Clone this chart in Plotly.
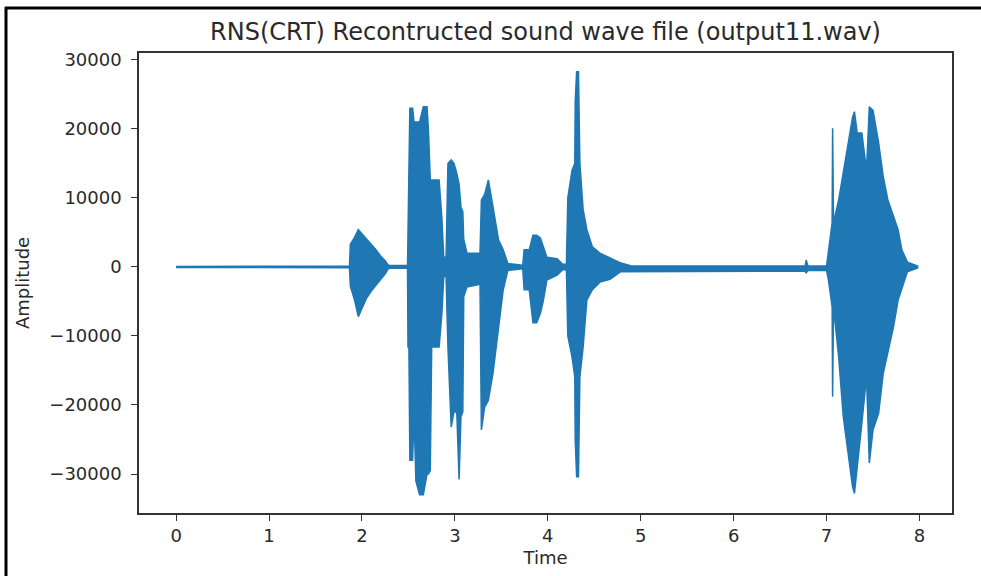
import plotly.graph_objects as go

# Envelope of the reconstructed waveform: time (s), upper and lower amplitude
time = [
    0.0, 1.865, 1.875, 1.92, 1.96, 2.00, 2.05, 2.10, 2.15, 2.20, 2.25, 2.28, 2.30, 2.49,
    2.495, 2.505, 2.515, 2.545, 2.56, 2.58, 2.62, 2.66, 2.70, 2.715, 2.735, 2.75, 2.83,
    2.86, 2.88, 2.905, 2.925, 2.96, 2.99, 3.02, 3.045, 3.065, 3.085, 3.095, 3.13, 3.27, 3.285,
    3.32, 3.36, 3.41, 3.47, 3.52, 3.57, 3.73,
    3.745, 3.80, 3.84, 3.88, 3.92, 3.95, 3.99, 4.10, 4.16, 4.20, 4.215, 4.26, 4.29,
    4.295, 4.31, 4.33, 4.345, 4.38, 4.42, 4.48, 4.56, 4.67, 4.78, 4.90,
    6.77, 6.78, 6.80, 7.00,
    7.02, 7.06, 7.065, 7.075, 7.13, 7.18, 7.24, 7.28, 7.30, 7.33, 7.38, 7.43, 7.46,
    7.50, 7.56, 7.61, 7.66, 7.72, 7.77, 7.81, 7.87, 7.98,
]
upper = [
    80, 100, 3300, 4300, 5400, 4800, 4000, 3200, 2500, 1600, 900, 300, 200, 200,
    6400, 11600, 23000, 23000, 21000, 21000, 21000, 23200, 23200, 19800, 12600, 12600, 12600,
    7000, 1400, 1400, 15000, 15500, 15000, 13600, 12000, 8700, 8000, 4000, 2000, 2000, 9700,
    10500, 12600, 8700, 3900, 2500, 500, 250,
    2500, 2500, 4600, 4600, 4200, 3000, 1400, 1200, 400, 400, 10000, 14000, 15000,
    24000, 28300, 28300, 15000, 8300, 5400, 2900, 2000, 1300, 600, 150,
    150, 1000, 150, 150,
    2500, 6400, 20100, 6400, 9700, 13600, 18400, 21700, 22500, 19400, 19400, 14000, 23200,
    22700, 18000, 13100, 9700, 7200, 5400, 2500, 700, 150,
]
lower = [
    -80, -100, -2800, -4800, -7200, -6000, -4500, -3500, -2600, -1800, -1000, -300, -200, -200,
    -11600, -11600, -28000, -28000, -21000, -31000, -33000, -33000, -30000, -30000, -29500, -11600, -11600,
    -6700, -1400, -1400, -11600, -23200, -21000, -21000, -30800, -21700, -21000, -4300, -2900, -2500, -23600,
    -20300, -19300, -15400, -8700, -3300, -500, -250,
    -3300, -3300, -8100, -8100, -6700, -5000, -1900, -1200, -400, -400, -10000, -13000, -15900,
    -25000, -30400, -30400, -15900, -11600, -4800, -3300, -2200, -1800, -700, -600,
    -600, -900, -500, -500,
    -1900, -5800, -18800, -5800, -13000, -21700, -27500, -31900, -32800, -29000, -22600, -15900, -28400,
    -23600, -21200, -15400, -12500, -8700, -4800, -3300, -700, -150,
]

x_ticks = [0, 1, 2, 3, 4, 5, 6, 7, 8]
y_ticks = [-30000, -20000, -10000, 0, 10000, 20000, 30000]
y_tick_text = [("\u2212" + str(abs(v))) if v < 0 else str(v) for v in y_ticks]

wave_color = "#1f77b4"
ink = "#2a2a2a"
font_family = "DejaVu Sans"

W, H = 981, 576
ML, MR, MT, MB = 139, 29, 53, 63
PW, PH = W - ML - MR, H - MT - MB


def px_to_paper_x(px):
    return (px - ML) / PW


def px_to_paper_y(py):
    return (H - MB - py) / PH


# Closed outline: upper envelope forward, lower envelope back
poly_x = time + time[::-1]
poly_y = upper + lower[::-1]

fig = go.Figure()
fig.add_trace(go.Scatter(
    x=poly_x, y=poly_y, mode="lines", fill="toself",
    fillcolor=wave_color, line=dict(color=wave_color, width=1.5),
    hoverinfo="skip", showlegend=False,
))

axis_common = dict(
    showgrid=False, zeroline=False, showline=True, mirror=True,
    linecolor="#333333", linewidth=1.5,
    ticks="outside", ticklen=6, tickwidth=1.2, tickcolor="#333333",
    tickfont=dict(family=font_family, size=18, color=ink),
)

fig.update_layout(
    width=W, height=H,
    margin=dict(l=ML, r=MR, t=MT, b=MB),
    paper_bgcolor="white", plot_bgcolor="white",
    title=dict(
        text="RNS(CRT) Recontructed sound wave file (output11.wav)",
        x=0.5, xref="paper", xanchor="center",
        y=1 - 32 / H, yref="container", yanchor="middle",
        font=dict(family=font_family, size=24, color=ink),
    ),
    xaxis=dict(
        range=[-0.4, 8.35], tickvals=x_ticks, ticktext=[str(v) for v in x_ticks],
        title=dict(text="Time", font=dict(family=font_family, size=18, color=ink), standoff=6),
        **axis_common,
    ),
    yaxis=dict(
        range=[-35650, 31000], tickvals=y_ticks, ticktext=y_tick_text,
        ticklabelstandoff=6,
        title=dict(text="Amplitude", font=dict(family=font_family, size=18, color=ink), standoff=15),
        **axis_common,
    ),
    shapes=[
        # page frame: left and top rules
        dict(type="line", xref="paper", yref="paper",
             x0=px_to_paper_x(6), x1=px_to_paper_x(6),
             y0=px_to_paper_y(7), y1=px_to_paper_y(H + 5),
             line=dict(color="black", width=3)),
        dict(type="line", xref="paper", yref="paper",
             x0=px_to_paper_x(5), x1=px_to_paper_x(W + 5),
             y0=px_to_paper_y(8), y1=px_to_paper_y(8),
             line=dict(color="black", width=3)),
    ],
)

fig.write_html("out.html")
